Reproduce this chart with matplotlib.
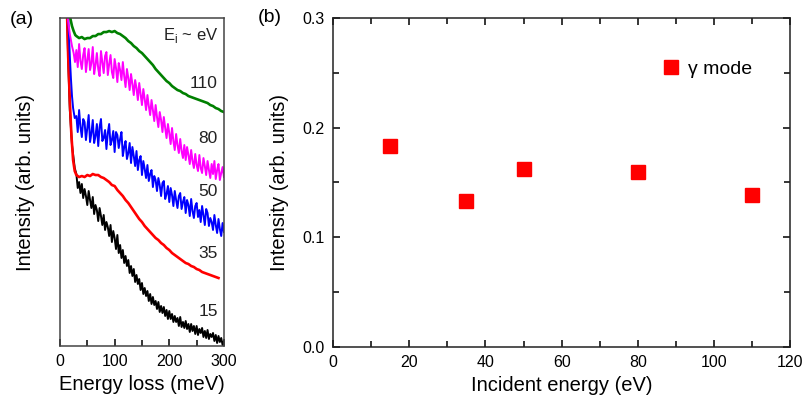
import matplotlib
matplotlib.use('Agg')
import matplotlib.pyplot as plt

plt.rcParams['font.family'] = ['Liberation Sans', 'DejaVu Sans']

# (a) spectra, energy loss in meV, intensity in arb. units
grid_fine = [30 + 2.5 * i for i in range(109)]    # 30 ... 300 meV
grid_coarse = list(range(30, 305, 5))             # 30 ... 300 meV

x_15 = [10, 13, 15, 18, 22, 27] + grid_fine
y_15 = [360, 331, 286, 236, 201, 178,
        172, 158, 164, 153, 162, 148, 157, 150, 141, 155, 146, 138,
        149, 132, 141, 136, 125, 138, 130, 121, 131, 116, 124, 119,
        110, 121, 104, 115, 108, 97, 111, 93, 101, 88, 96, 83,
        90, 80, 86, 73, 80, 70, 77, 64, 71, 62, 67, 56,
        63, 52, 58, 50, 55, 45, 52, 42, 49, 41, 45, 37,
        44, 34, 40, 33, 39, 30, 36, 27, 35, 27, 32, 24,
        30, 24, 28, 20, 29, 19, 24, 18, 25, 17, 22, 14,
        22, 15, 20, 12, 20, 11, 17, 13, 18, 9, 15, 8,
        16, 7, 12, 9, 13, 5, 11, 3, 10, 4, 8, 1, 5]

x_35 = [10, 13, 15, 18, 21, 24, 27] + grid_coarse[:53]
y_35 = [360, 331, 290, 245, 210, 186, 175,
        171, 169, 170, 169, 171, 170, 172, 171, 171, 169,
        168, 166, 164, 161, 160, 156, 153, 150, 146, 143,
        139, 135, 131, 127, 124, 120, 117, 114, 111, 108,
        106, 103, 101, 98, 96, 93, 91, 89, 87, 85,
        83, 82, 80, 79, 77, 76, 74, 73, 72, 71, 70, 69, 68]

x_50 = [12, 15, 18, 20, 22, 24, 27] + grid_fine
y_50 = [360, 330, 290, 268, 250, 238, 228,
        230, 214, 236, 219, 209, 227, 224, 206, 218, 231, 204, 213,
        226, 203, 210, 222, 200, 219, 227, 205, 208, 216, 197, 213,
        222, 201, 206, 215, 194, 214, 211, 198, 207, 214, 190, 199,
        205, 187, 193, 203, 183, 199, 190, 180, 195, 176, 186, 190,
        171, 185, 177, 168, 181, 165, 172, 176, 159, 170, 166, 155,
        168, 161, 150, 163, 165, 147, 152, 160, 144, 158, 151, 140,
        155, 146, 138, 150, 153, 137, 144, 149, 133, 146, 141, 130,
        147, 135, 128, 140, 143, 129, 136, 124, 140, 131, 121, 137,
        133, 120, 128, 124, 116, 131, 121, 113, 127, 117, 110, 123, 114]

x_80 = [12, 15, 18, 20, 22, 25, 27.5] + grid_fine
y_80 = [345, 325, 312, 306, 300, 293, 284,
        296, 279, 302, 285, 277, 291, 298, 274, 286, 297, 276, 283,
        299, 272, 281, 293, 277, 270, 295, 284, 273, 290, 294, 271,
        282, 291, 274, 268, 287, 278, 264, 283, 276, 266, 284, 270,
        259, 277, 268, 256, 272, 262, 251, 266, 258, 246, 263, 252,
        241, 257, 247, 236, 251, 240, 231, 246, 236, 225, 241, 229,
        219, 234, 226, 214, 229, 218, 208, 222, 213, 202, 218, 205,
        196, 212, 201, 193, 207, 195, 188, 201, 186, 199, 191, 182,
        196, 185, 178, 192, 181, 175, 191, 178, 173, 188, 180, 171,
        185, 176, 168, 182, 172, 185, 167, 176, 182, 166, 173, 179, 169]

x_110 = [15, 18, 20, 22, 25, 28] + grid_coarse
y_110 = [345, 330, 325, 320, 315, 311,
         310, 308, 309, 307, 308, 308, 310, 310, 312, 312,
         314, 314, 315, 314, 315, 313, 312, 310, 308, 305,
         303, 300, 298, 295, 293, 290, 287, 284, 281, 277,
         274, 271, 268, 265, 263, 260, 258, 256, 255, 253,
         252, 250, 249, 248, 247, 246, 245, 244, 243, 241,
         240, 238, 237, 235, 234]

spec_labels = ['15', '35', '50', '80', '110']
label_y = [34, 93, 155, 208, 263]

# (b) gamma mode intensity vs incident energy
incident_energy = [15, 35, 50, 80, 110]
gamma_intensity = [0.183, 0.133, 0.162, 0.160, 0.139]

fig = plt.figure(figsize=(8.05, 3.97), dpi=100)

# ---- panel (a)
ax1 = fig.add_axes([0.0745, 0.1285, 0.2037, 0.826])
ax1.plot(x_15, y_15, color='black', lw=1.4)
ax1.plot(x_35, y_35, color='#ff0000', lw=1.9)
ax1.plot(x_50, y_50, color='#0000ff', lw=1.4)
ax1.plot(x_80, y_80, color='#ff00ff', lw=1.4)
ax1.plot(x_110, y_110, color='#008000', lw=1.9)
ax1.set_xlim(0, 300)
ax1.set_ylim(0, 328)
ax1.set_yticks([])
ax1.set_xticks([0, 100, 200, 300])
ax1.set_xticks([50, 150, 250], minor=True)
ax1.tick_params(axis='x', direction='in', length=5, width=1.1, labelsize=11.5, pad=6)
ax1.tick_params(axis='x', which='minor', direction='in', length=4, width=1.1)
for s in ax1.spines.values():
    s.set_linewidth(1.1)
    s.set_color('#444444')
ax1.set_xlabel('Energy loss (meV)', fontsize=14.5, labelpad=4)
ax1.set_ylabel('Intensity (arb. units)', fontsize=14.5, labelpad=18)

for lab, ly in zip(spec_labels, label_y):
    ax1.text(289, ly, lab, ha='right', va='center', fontsize=12.5, color='#222222')
ax1.text(291, 311, r'E$_\mathregular{i}$ ~ eV', ha='right', va='center',
         fontsize=12, color='#222222')
fig.text(0.012, 0.952, '(a)', fontsize=14, va='center')

# ---- panel (b)
ax2 = fig.add_axes([0.4137, 0.126, 0.568, 0.8287])
ax2.plot(incident_energy, gamma_intensity, 's', color='#ff0000', ms=10,
         label='γ mode')
ax2.set_xlim(0, 120)
ax2.set_ylim(0, 0.3)
ax2.set_xticks(range(0, 121, 20))
ax2.set_xticks(range(10, 120, 20), minor=True)
ax2.set_yticks([0.0, 0.1, 0.2, 0.3])
ax2.set_yticks([0.05, 0.15, 0.25], minor=True)
ax2.set_yticklabels(['0.0', '0.1', '0.2', '0.3'])
ax2.tick_params(which='both', direction='in', top=True, right=True,
                labelsize=11.5, width=1.1)
ax2.tick_params(which='major', length=5, pad=6)
ax2.tick_params(which='minor', length=4)
for s in ax2.spines.values():
    s.set_linewidth(1.1)
    s.set_color('#222222')
ax2.set_xlabel('Incident energy (eV)', fontsize=14.5, labelpad=4)
ax2.set_ylabel('Intensity (arb. units)', fontsize=14.5, labelpad=10)
ax2.legend(loc='upper right', bbox_to_anchor=(0.955, 0.925), frameon=False,
           fontsize=14, handlelength=1.4, handletextpad=0.2, markerscale=1.0)
fig.text(0.32, 0.955, '(b)', fontsize=14, va='center')

fig.savefig('out.png', dpi=100)
